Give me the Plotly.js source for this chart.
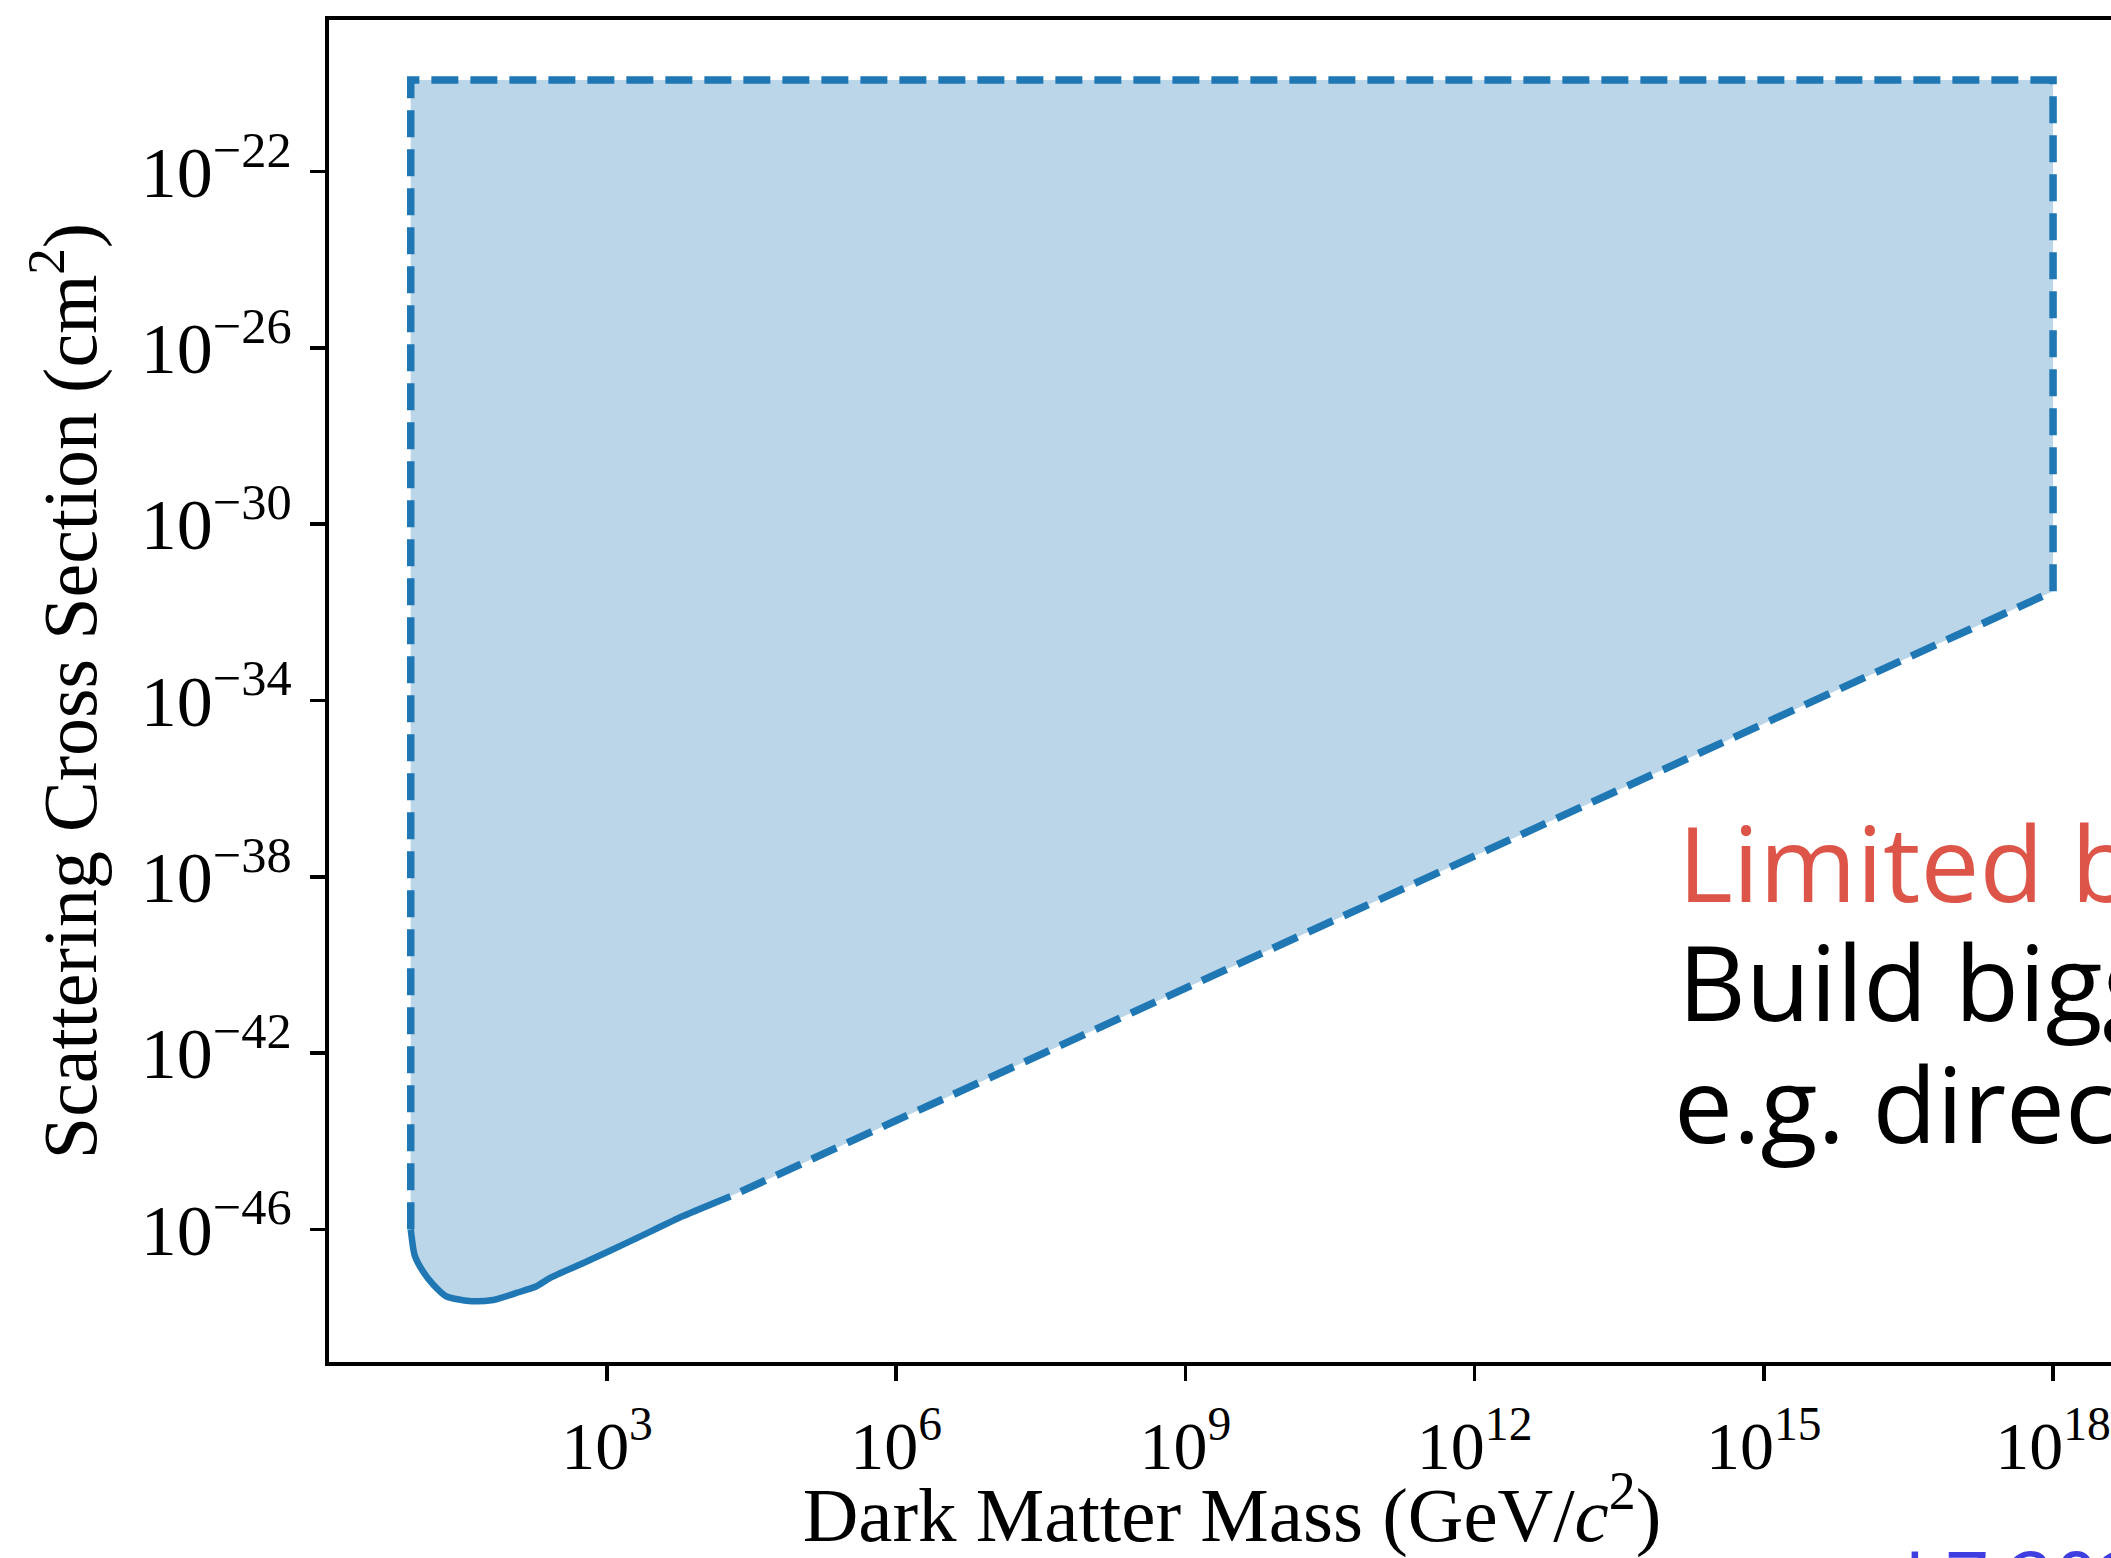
<!DOCTYPE html>
<html>
<head>
<meta charset="utf-8">
<script src="https://cdn.plot.ly/plotly-3.0.1.min.js"></script>
<style>
  html, body { margin: 0; padding: 0; overflow: hidden; background: #fff; width: 2111px; height: 1558px; }
  #chart { width: 2200px; height: 1558px; }
</style>
</head>
<body>
<div id="chart"></div>
<script>
// Dark matter mass (GeV/c^2) and cross section (cm^2) along the measured (solid) part of the limit
const mass_curve  = [9.2, 10.1, 12.3, 15.7, 21.6, 39.8, 66, 115, 186, 257, 562, 1862, 6166, 19055];
const sigma_curve = [1e-46, 2.6e-47, 1.12e-47, 5.6e-48, 3.0e-48, 2.34e-48, 2.5e-48, 3.6e-48, 5.1e-48, 7.9e-48, 1.7e-47, 5.75e-47, 2.0e-46, 5.6e-46];

// Region boundary (dashed part)
const mass_min = 9.2;
const mass_max = 1e18;
const sigma_top = 1.2e-20;
const sigma_at_max = 3.0e-32;

// Tick values and labels
const x_tickvals = [1e3, 1e6, 1e9, 1e12, 1e15, 1e18];
const x_ticktext = ["10<sup>3</sup>", "10<sup>6</sup>", "10<sup>9</sup>", "10<sup>12</sup>", "10<sup>15</sup>", "10<sup>18</sup>"];
const y_tickvals = [1e-22, 1e-26, 1e-30, 1e-34, 1e-38, 1e-42, 1e-46];
const y_ticktext = ["10<sup>−22</sup>", "10<sup>−26</sup>", "10<sup>−30</sup>", "10<sup>−34</sup>", "10<sup>−38</sup>", "10<sup>−42</sup>", "10<sup>−46</sup>"];

// Annotation texts
const text_limited = "Limited by exposure";
const text_build = "Build bigger detectors";
const text_eg = "e.g. direct detection";
const text_lz = "LZ 2022";

const lastM = mass_curve[mass_curve.length - 1];
const lastS = sigma_curve[sigma_curve.length - 1];

const fillX = [mass_min].concat(mass_curve, [mass_max, mass_max]);
const fillY = [sigma_top].concat(sigma_curve, [sigma_at_max, sigma_top]);

const dashX = [mass_min, mass_min, mass_max, mass_max, lastM];
const dashY = [sigma_curve[0], sigma_top, sigma_top, sigma_at_max, lastS];

const blue = "#1f77b4";
const serif = "Liberation Serif, Times New Roman, serif";
const sans = "Open Sans, Liberation Sans, Arial, sans-serif";

const traces = [
  { x: fillX, y: fillY, type: "scatter", mode: "lines", fill: "toself",
    fillcolor: "rgba(31,119,180,0.3)", line: { width: 0 }, hoverinfo: "skip", showlegend: false },
  { x: mass_curve, y: sigma_curve, type: "scatter", mode: "lines",
    line: { color: blue, width: 6.5, shape: "spline", smoothing: 0.6 }, showlegend: false },
  { x: dashX, y: dashY, type: "scatter", mode: "lines",
    line: { color: blue, width: 7.5, dash: "27px,12px" }, showlegend: false }
];

const PL = 329, PR = 2135, PT = 20, PB = 1362;
const pw = PR - PL, ph = PB - PT;
function px(x) { return (x - PL) / pw; }
function py(y) { return (PB - y) / ph; }

const layout = {
  width: 2200, height: 1558,
  margin: { l: PL, r: 2200 - PR, t: PT, b: 1558 - PB, pad: 0 },
  paper_bgcolor: "#fff", plot_bgcolor: "#fff",
  showlegend: false,
  xaxis: {
    type: "log", range: [0.116, 18.85],
    tickmode: "array", tickvals: x_tickvals, ticktext: x_ticktext,
    ticks: "outside", ticklen: 15, tickwidth: 3.5, tickcolor: "#000",
    showline: true, linecolor: "#000", linewidth: 4, mirror: true,
    showgrid: false, zeroline: false,
    tickfont: { family: serif, size: 68, color: "#000" },
    ticklabelstandoff: 6,
    title: { text: "Dark Matter Mass (GeV/<i>c</i><sup>2</sup>)", font: { family: serif, size: 77, color: "#000" }, standoff: 20 },
    automargin: false
  },
  yaxis: {
    type: "log", range: [-49.01, -18.56],
    tickmode: "array", tickvals: y_tickvals, ticktext: y_ticktext,
    ticks: "outside", ticklen: 15, tickwidth: 3.5, tickcolor: "#000",
    showline: true, linecolor: "#000", linewidth: 4, mirror: true,
    showgrid: false, zeroline: false,
    tickfont: { family: serif, size: 72, color: "#000" },
    ticklabelstandoff: 4,
    title: { text: "Scattering Cross Section (cm<sup>2</sup>)", font: { family: serif, size: 76, color: "#000" }, standoff: 20 },
    automargin: false
  },
  annotations: [
    { xref: "paper", yref: "paper", x: px(1676), y: py(861), xanchor: "left", yanchor: "middle",
      text: text_limited, showarrow: false, font: { family: sans, size: 105, color: "#dc5548" } },
    { xref: "paper", yref: "paper", x: px(1676), y: py(980), xanchor: "left", yanchor: "middle",
      text: text_build, showarrow: false, font: { family: sans, size: 105, color: "#000" } },
    { xref: "paper", yref: "paper", x: px(1672), y: py(1102), xanchor: "left", yanchor: "middle",
      text: text_eg, showarrow: false, font: { family: sans, size: 105, color: "#000" } },
    { xref: "paper", yref: "paper", x: px(1902), y: py(1523), xanchor: "left", yanchor: "top",
      text: text_lz, showarrow: false, font: { family: sans, size: 78, color: "#3f3fe1" } }
  ]
};

Plotly.newPlot("chart", traces, layout, { displayModeBar: false, staticPlot: true });
</script>
</body>
</html>
